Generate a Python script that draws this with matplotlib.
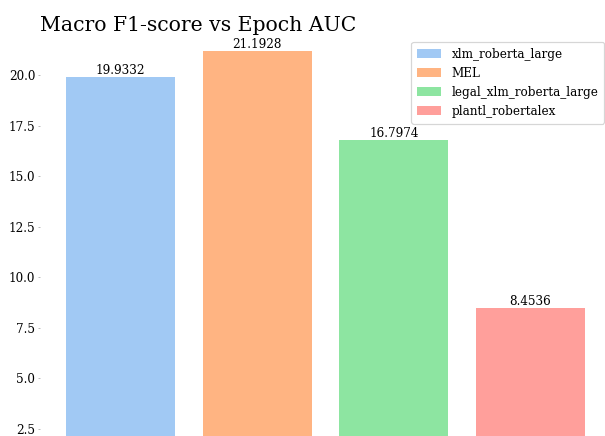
import matplotlib
matplotlib.use("Agg")
import matplotlib.pyplot as plt

categories = ["xlm_roberta_large", "MEL", "legal_xlm_roberta_large", "plantl_robertalex"]
values = [19.9332, 21.1928, 16.7974, 8.4536]
colors = ["#a1c9f4", "#ffb482", "#8de5a1", "#ff9f9b"]

plt.rcParams["font.family"] = ["DejaVu Serif"]

DPI = 86.4
fig = plt.figure(figsize=(605 / DPI, 436 / DPI), dpi=DPI)
ax = fig.add_axes([40 / 605, 0, (611 - 40) / 605, (436 - 35) / 436])

bars = ax.bar(range(len(values)), values, color=colors, width=0.8)
ax.bar_label(bars, labels=[f"{v:.4f}" for v in values], fontsize=10, padding=0)

ax.set_ylim(2.13, 21.99)
ax.set_xticks([])
ax.set_yticks([2.5, 5.0, 7.5, 10.0, 12.5, 15.0, 17.5, 20.0])
ax.tick_params(axis="y", length=2, width=0.8, color="#bbbbbb", pad=2, labelsize=10)
for s in ax.spines.values():
    s.set_visible(False)

ax.legend(bars, categories, loc="upper right", fontsize=10, borderpad=0.5,
          handletextpad=0.85, borderaxespad=0.55)
ax.set_title("Macro F1-score vs Epoch AUC", loc="left", fontsize=17, pad=3.5)

fig.savefig("out.png", dpi=DPI)
